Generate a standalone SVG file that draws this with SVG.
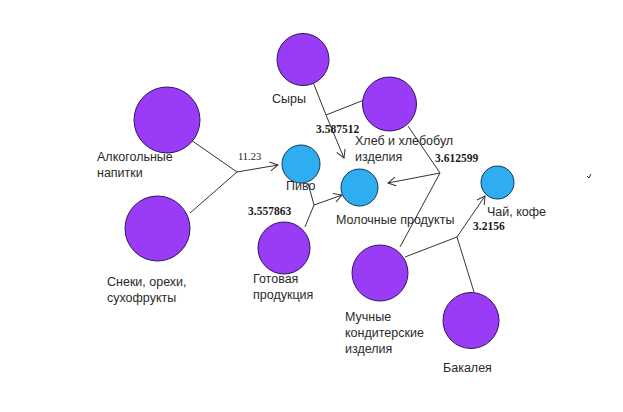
<svg xmlns="http://www.w3.org/2000/svg" width="623" height="412" viewBox="0 0 623 412">
<defs>
<marker id="arr" markerWidth="12" markerHeight="12" refX="9" refY="5" orient="auto" markerUnits="userSpaceOnUse">
<path d="M1,0.5 L9,5 L1,9.5" fill="none" stroke="#333" stroke-width="1"/>
</marker>
<style>
.p{fill:#9a3cf6;stroke:#2b1460;stroke-width:1}
.b{fill:#2eaef0;stroke:#12335a;stroke-width:1}
.t{font-family:"Liberation Sans","DejaVu Sans",sans-serif;font-size:12.5px;fill:#2a2a2a}
.n{font-family:"Liberation Serif",serif;font-size:11.5px;font-weight:bold;fill:#1a1a1a}
.c line,.c polyline{stroke:#333;stroke-width:1;fill:none}
</style>
</defs>
<rect width="623" height="412" fill="#fff"/>
<g class="c" id="connectors">
<line x1="191" y1="140" x2="237" y2="172"/>
<line x1="190" y1="213" x2="237" y2="172"/>
<line x1="237" y1="172" x2="278" y2="165" marker-end="url(#arr)"/>
<line x1="313" y1="82" x2="326" y2="115"/>
<line x1="364" y1="100" x2="326" y2="115"/>
<line x1="326" y1="115" x2="344" y2="158" marker-end="url(#arr)"/>
<line x1="408" y1="126" x2="440" y2="173"/>
<line x1="400" y1="247" x2="440" y2="173"/>
<line x1="440" y1="173" x2="388" y2="183" marker-end="url(#arr)"/>
<line x1="308" y1="183" x2="314" y2="205"/>
<line x1="305" y1="227" x2="314" y2="205"/>
<line x1="314" y1="205" x2="342" y2="195" marker-end="url(#arr)"/>
<line x1="405" y1="257" x2="457" y2="237"/>
<line x1="474" y1="292" x2="457" y2="237"/>
<line x1="457" y1="237" x2="485" y2="196" marker-end="url(#arr)"/>
<polyline points="587,176 589,178 591,174"/>
</g>
<g id="n-alko"><circle class="p" cx="167" cy="120" r="33"/><text class="t" x="97" y="161">Алкогольные</text><text class="t" x="97" y="177">напитки</text></g>
<g id="n-sneki"><circle class="p" cx="157.5" cy="228.5" r="32.5"/><text class="t" x="107" y="286">Снеки, орехи,</text><text class="t" x="107" y="302">сухофрукты</text></g>
<g id="n-syry"><circle class="p" cx="303" cy="59.5" r="26"/><text class="t" x="272" y="103">Сыры</text></g>
<g id="n-hleb"><circle class="p" cx="389.5" cy="104" r="27"/><text class="t" x="355" y="145">Хлеб и хлебобул</text><text class="t" x="355" y="161">изделия</text></g>
<g id="n-pivo"><circle class="b" cx="301" cy="164" r="19"/><text class="t" x="286" y="190">Пиво</text></g>
<g id="n-moloko"><circle class="b" cx="359.5" cy="187.5" r="18.5"/><text class="t" x="336" y="224">Молочные продукты</text></g>
<g id="n-gotovaya"><circle class="p" cx="284" cy="248" r="26"/><text class="t" x="253" y="283">Готовая</text><text class="t" x="253" y="299">продукция</text></g>
<g id="n-chai"><circle class="b" cx="497.5" cy="182.5" r="16.5"/><text class="t" x="487" y="216">Чай, кофе</text></g>
<g id="n-muchnye"><circle class="p" cx="380" cy="273" r="28"/><text class="t" x="345" y="321">Мучные</text><text class="t" x="345" y="337">кондитерские</text><text class="t" x="345" y="353">изделия</text></g>
<g id="n-bakaleya"><circle class="p" cx="471" cy="320.5" r="28"/><text class="t" x="443" y="372">Бакалея</text></g>
<g id="labels">
<text class="n" x="238" y="160" style="font-weight:normal;font-size:10.5px">11.23</text>
<text class="n" x="316" y="133">3.587512</text>
<text class="n" x="435" y="162">3.612599</text>
<text class="n" x="248" y="215">3.557863</text>
<text class="n" x="473" y="230">3.2156</text>
</g>
</svg>
